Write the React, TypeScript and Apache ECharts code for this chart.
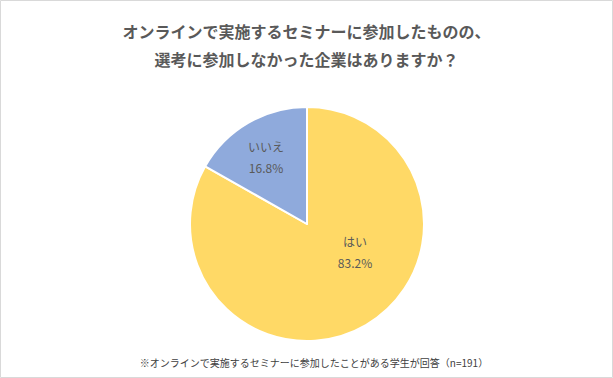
import React, { useEffect, useRef } from "react";
import * as echarts from "echarts";

const titleLines = [
  "オンラインで実施するセミナーに参加したものの、",
  "選考に参加しなかった企業はありますか？",
];
const categories = ["はい", "いいえ"];
const values = [83.2, 16.8];
const colors = ["#FFD966", "#8FAADC"];
const footnote = "※オンラインで実施するセミナーに参加したことがある学生が回答（n=191）";

const labelPos = [
  [355, 252],
  [266, 157],
];

const FONT = "'Noto Sans CJK JP', 'Noto Sans', sans-serif";

export default function App() {
  const ref = useRef<HTMLDivElement>(null);
  useEffect(() => {
    document.body.style.margin = "0";
    const chart = echarts.init(ref.current!, null, { renderer: "svg" });
    chart.setOption({
      animation: false,
      backgroundColor: "#ffffff",
      title: {
        text: titleLines.join("\n"),
        left: "center",
        top: 12,
        textStyle: {
          fontFamily: FONT,
          fontSize: 16,
          fontWeight: "bold",
          color: "#595959",
          lineHeight: 28,
        },
      },
      graphic: [
        {
          type: "rect",
          shape: { x: 0.5, y: 0.5, width: 612, height: 377 },
          style: { fill: "none", stroke: "#d9d9d9", lineWidth: 1 },
          silent: true,
        },
        {
          type: "text",
          x: 314,
          y: 362,
          style: {
            text: footnote,
            fontFamily: FONT,
            fontSize: 10,
            fill: "#404040",
            align: "center",
            verticalAlign: "middle",
          },
        },
      ],
      series: [
        {
          type: "pie",
          center: [307, 224],
          radius: 117,
          startAngle: 90,
          clockwise: true,
          itemStyle: { borderColor: "#ffffff", borderWidth: 2 },
          data: categories.map((c, i) => ({
            name: c,
            value: values[i],
            itemStyle: { color: colors[i] },
          })),
          label: {
            show: true,
            position: "inside",
            formatter: (p: any) => `${p.name}\n${p.value.toFixed(1)}%`,
            fontFamily: FONT,
            fontSize: 12,
            color: "#595959",
            lineHeight: 21,
            align: "center",
          },
          labelLayout: (params: any) => ({
            x: labelPos[params.dataIndex][0],
            y: labelPos[params.dataIndex][1],
            align: "center",
            verticalAlign: "middle",
          }),
          labelLine: { show: false },
          emphasis: { disabled: true },
        },
      ],
    });
    return () => chart.dispose();
  }, []);
  return <div ref={ref} style={{ width: 613, height: 378 }} />;
}
